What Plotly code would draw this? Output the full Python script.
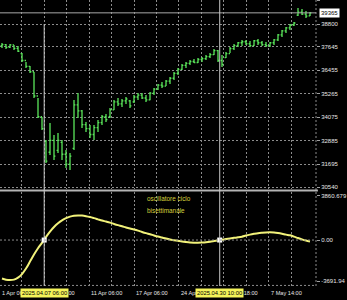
import plotly.graph_objects as go
from plotly.subplots import make_subplots

# ---------------- data ----------------
bar_index = list(range(78))
price_open = [37700, 37750, 37620, 37740, 37560, 37300, 36950, 36650, 36380, 35150,
              34100, 32850, 32300, 32900, 32400, 32800, 32200, 31700, 32500, 34700,
              34400, 33700, 33500, 33200, 33550, 33800, 34100, 34100, 34450, 34850,
              34750, 34900, 34900, 34850, 35100, 35200, 35050, 34950, 35300, 35500,
              35700, 35650, 35900, 36050, 36300, 36500, 36700, 36800, 36900, 36850,
              37000, 37050, 37150, 37250, 37450, 36950, 37100, 37300, 37550, 37700,
              37850, 37900, 37800, 37700, 37950, 37850, 37750, 37700, 37850, 38000,
              38250, 38450, 38600, 38750, 39250, 39400, 39300, 39210]
price_high = [37840, 37790, 37790, 37740, 37690, 37330, 36870, 36670, 36370, 35050,
              34090, 32920, 33780, 33180, 33280, 32920, 32420, 32260, 34950, 35300,
              34440, 33830, 33680, 33680, 33940, 34190, 34240, 34540, 34950, 35050,
              35000, 35100, 34950, 35200, 35300, 35300, 35200, 35350, 35560, 35760,
              35860, 35960, 36110, 36370, 36570, 36770, 36870, 36980, 37030, 37080,
              37130, 37230, 37330, 37530, 37480, 37230, 37380, 37640, 37790, 37890,
              37990, 37990, 37940, 37990, 38040, 37940, 37890, 37890, 38040, 38290,
              38500, 38650, 38800, 38900, 39610, 39560, 39460, 39410]
price_low = [37580, 37530, 37580, 37480, 37380, 36870, 36570, 36320, 35050, 34040,
             33430, 31760, 32160, 31910, 32260, 31910, 31500, 31400, 32420, 34040,
             33530, 33330, 33020, 32920, 33330, 33680, 33830, 34040, 34440, 34640,
             34590, 34750, 34540, 34800, 34950, 35000, 34850, 34940, 35200, 35460,
             35560, 35660, 35760, 35960, 36220, 36470, 36570, 36720, 36820, 36820,
             36870, 36980, 37080, 37230, 36870, 36620, 37080, 37330, 37480, 37640,
             37690, 37740, 37640, 37690, 37740, 37690, 37640, 37640, 37740, 37940,
             38140, 38340, 38500, 38700, 39210, 39260, 39100, 39210]
price_close = [37750, 37620, 37740, 37560, 37420, 36950, 36650, 36380, 35150, 34100,
               33500, 31850, 32900, 32100, 32900, 32200, 31700, 32100, 34700, 34400,
               33700, 33500, 33200, 33550, 33800, 34100, 33950, 34450, 34850, 34750,
               34900, 35000, 34650, 35100, 35200, 35050, 34950, 35300, 35500, 35700,
               35650, 35900, 36050, 36300, 36500, 36700, 36800, 36900, 36850, 37000,
               37050, 37150, 37250, 37450, 36950, 36750, 37300, 37550, 37700, 37850,
               37900, 37800, 37700, 37950, 37850, 37750, 37700, 37850, 38000, 38250,
               38450, 38600, 38750, 38850, 39400, 39300, 39200, 39365]
osc_values = [-3085, -3182, -3214, -3182, -3021, -2732, -2290, -1728, -1165, -659,
              -225, 241, 683, 1045, 1342, 1583, 1760, 1880, 1953, 1977,
              1969, 1920, 1848, 1760, 1663, 1567, 1486, 1398, 1294, 1197,
              1109, 1012, 924, 844, 755, 651, 554, 466, 370, 281,
              201, 121, 48, -8, -64, -121, -161, -193, -209, -217,
              -201, -177, -137, -80, -24, 32, 80, 129, 177, 217,
              273, 362, 434, 498, 554, 587, 611, 619, 603, 562,
              506, 434, 378, 273, 161, 56, -40, -121]

price_ticks = [39990, 38800, 37645, 36455, 35265, 34075, 32885, 31695, 30540]
price_tick_text = ["39990", "38800", "37645", "36455", "35265", "34075", "32885", "31695", "30540"]
osc_tick_vals = [3539, 0, -3290]
osc_tick_text = ["3860.679", "0.00", "-3691.94"]
osc_range = [-3691.94, 3860.679]
price_range = [30439, 40016]

grid_x = [4.93, 10.55, 16.15, 21.78, 27.38, 33.0, 38.6, 44.23, 49.83, 55.45, 61.05, 66.68, 72.28]
date_label_x = [-0.5, 10.55, 21.78, 33.0, 44.23, 55.45, 66.68]
date_labels = ["1 Apr 06:00", "7 Apr 06:00", "11 Apr 06:00", "17 Apr 06:00",
               "24 Apr 06:00", "29 Apr 18:00", "7 May 14:00"]
cursor_x = [10.55, 54.43]
cursor_labels = ["2025.04.07 06:00", "2025.04.30 10:00"]
cursor_top_price = [38800, 40016]
last_price = 39365
osc_title = ["oscillatore ciclo", "bisettimanale"]

# ---------------- styling ----------------
FONT = "Liberation Sans"
GRID = "#8c8c8c"
TXT = "#e6e6e6"
GREEN = "#5ae65a"
YELLOW_LINE = "#f2f27a"

main_dom = [0.3392, 1.0]
osc_dom = [0.0, 0.3287]

fig = make_subplots(rows=2, cols=1, shared_xaxes=True, vertical_spacing=0.01)

fig.add_trace(go.Ohlc(
    x=bar_index, open=price_open, high=price_high, low=price_low, close=price_close,
    increasing=dict(line=dict(color=GREEN, width=1.3)),
    decreasing=dict(line=dict(color=GREEN, width=1.3)),
    tickwidth=0.35, hoverinfo="skip", showlegend=False), row=1, col=1)

fig.add_trace(go.Scatter(
    x=bar_index, y=osc_values, mode="lines",
    line=dict(color=YELLOW_LINE, width=2, shape="spline"),
    hoverinfo="skip", showlegend=False), row=2, col=1)

fig.add_trace(go.Scatter(
    x=cursor_x, y=[0, 0], mode="markers",
    marker=dict(symbol="square", size=5, color="white", line=dict(width=0)),
    hoverinfo="skip", showlegend=False), row=2, col=1)

xcommon = dict(range=[-0.5, 78.5], tickvals=grid_x, showticklabels=False,
               showgrid=True, gridcolor=GRID, griddash="2px,2px", gridwidth=1,
               zeroline=False, showline=False, ticks="", fixedrange=True)
fig.update_xaxes(**xcommon)
fig.update_layout(xaxis_rangeslider_visible=False)

fig.update_layout(
    yaxis=dict(domain=main_dom, range=price_range, side="right",
               tickvals=price_ticks, ticktext=price_tick_text,
               tickfont=dict(family=FONT, size=6, color=TXT),
               ticks="outside", ticklen=3, tickcolor="#a0a0a0",
               showgrid=True, gridcolor=GRID, griddash="2px,2px", gridwidth=1,
               zeroline=False, showline=False),
    yaxis2=dict(domain=osc_dom, range=osc_range, side="right",
                tickvals=osc_tick_vals, ticktext=osc_tick_text,
                tickfont=dict(family=FONT, size=6, color=TXT),
                ticks="outside", ticklen=3, tickcolor="#a0a0a0",
                showgrid=False, zeroline=False, showline=False),
)

shapes = []
# zero line of oscillator
shapes.append(dict(type="line", xref="paper", x0=0, x1=1, yref="y2", y0=0, y1=0,
                   line=dict(color=GRID, width=1, dash="2px,2px")))
# right border dotted
shapes.append(dict(type="line", xref="paper", x0=1, x1=1, yref="paper", y0=0, y1=1,
                   line=dict(color=GRID, width=1, dash="2px,2px")))
# bottom border of oscillator
shapes.append(dict(type="line", xref="paper", x0=0, x1=1, yref="paper", y0=0.002, y1=0.002,
                   line=dict(color=GRID, width=1, dash="2px,2px")))
# separator between panes
sep_y = 1 - 190.5 / 286
shapes.append(dict(type="line", xref="paper", x0=0, x1=1.006, yref="paper", y0=sep_y, y1=sep_y,
                   line=dict(color="#b4b4b4", width=2)))
# last price line
shapes.append(dict(type="line", xref="paper", x0=0, x1=1, yref="y", y0=last_price, y1=last_price,
                   line=dict(color="#a8a8a8", width=1)))
# cursor vertical lines
for cx, top in zip(cursor_x, cursor_top_price):
    frac = (top - price_range[0]) / (price_range[1] - price_range[0])
    ytop = main_dom[0] + frac * (main_dom[1] - main_dom[0])
    shapes.append(dict(type="line", xref="x", x0=cx, x1=cx, yref="paper", y0=0, y1=ytop,
                       line=dict(color="#c8c8c8", width=1)))

annotations = []
label_y = -7 / 286
for lx, lt in zip(date_label_x, date_labels):
    annotations.append(dict(x=lx, xref="x", y=label_y, yref="paper", text=lt,
                            showarrow=False, xanchor="left", yanchor="middle",
                            font=dict(family=FONT, size=5.6, color=TXT)))
for cx, ct in zip(cursor_x, cursor_labels):
    annotations.append(dict(x=cx, xref="x", y=label_y, yref="paper", text=ct,
                            showarrow=False, xanchor="center", yanchor="middle",
                            bgcolor="#f4f45a", borderpad=1,
                            font=dict(family=FONT, size=5.8, color="black")))
annotations.append(dict(x=1, xref="paper", xshift=3, y=last_price, yref="y",
                        text=str(last_price), showarrow=False, xanchor="left", yanchor="middle",
                        bgcolor="white", borderpad=1,
                        font=dict(family=FONT, size=6, color="black")))
for k, t in enumerate(osc_title):
    annotations.append(dict(x=145 / 316, xref="paper", y=(286 - 198 - 12.5 * k) / 286, yref="paper",
                            text=t, showarrow=False, xanchor="left", yanchor="middle",
                            font=dict(family=FONT, size=6.4, color="#d6d03c")))

fig.update_layout(
    width=347, height=300,
    margin=dict(l=0, r=31, t=0, b=14),
    paper_bgcolor="black", plot_bgcolor="black",
    shapes=shapes, annotations=annotations,
    showlegend=False, hovermode=False,
    font=dict(family=FONT, color=TXT),
)

fig.write_html("out.html", config={"displayModeBar": False, "staticPlot": True})
